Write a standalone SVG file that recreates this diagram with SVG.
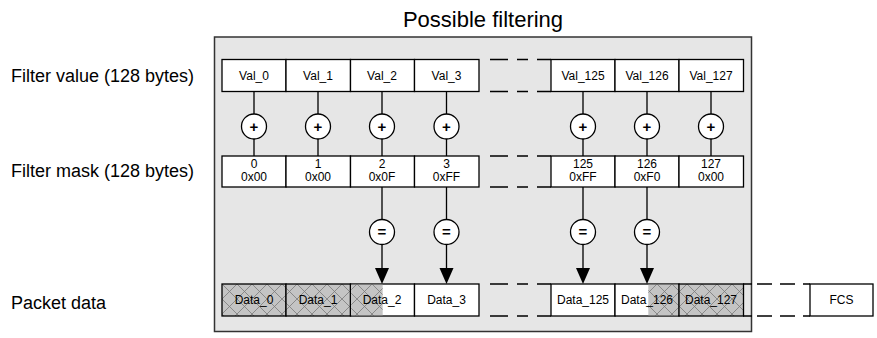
<svg xmlns="http://www.w3.org/2000/svg" width="877" height="338" viewBox="0 0 877 338">
<defs>
<pattern id="hatch" patternUnits="userSpaceOnUse" width="15" height="15" x="222" y="284">
<rect width="15" height="15" fill="#c4c4c4"/>
<path d="M0,0 L15,15 M15,0 L0,15" stroke="#7a7a7a" stroke-width="0.8"/>
</pattern>
<style>
text{font-family:"Liberation Sans",Arial,sans-serif;fill:#000}
.t{font-size:12px;text-anchor:middle}
.lbl{font-size:18px}
.cell{fill:#fff;stroke:#000;stroke-width:1.3}
.hat{fill:url(#hatch);stroke:none}
.hb{fill:none;stroke:#000;stroke-width:1.3}
.ln{stroke:#000;stroke-width:1.3;fill:none}
.dash{stroke:#000;stroke-width:1.3;fill:none;stroke-dasharray:18 9 11 9 14}
.op{fill:#fff;stroke:#000;stroke-width:1.3}
.sym{font-size:15px;font-weight:bold;text-anchor:middle}
.ah{fill:#000}
</style>
</defs>
<rect width="877" height="338" fill="#fff"/>
<text x="483" y="27" style="font-size:22px;text-anchor:middle">Possible filtering</text>
<g id="frame"><rect x="214.5" y="37" width="537" height="294.5" fill="#e6e6e6" stroke="#333" stroke-width="1.5"/></g>
<g id="labels">
<text class="lbl" x="11" y="82">Filter value (128 bytes)</text>
<text class="lbl" x="11" y="177">Filter mask (128 bytes)</text>
<text class="lbl" x="11" y="309">Packet data</text>
</g>
<g id="connectors">
<path class="ln" d="M254,91.5V156 M318,91.5V156 M382,91.5V156 M446.5,91.5V156 M583,91.5V156 M647,91.5V156 M711,91.5V156"/>
<path class="ln" d="M382,187V270 M446.5,187V270 M583,187V270 M647,187V270"/>
<path class="ah" d="M375,268L389,268L382,284Z M439.5,268L453.5,268L446.5,284Z M576,268L590,268L583,284Z M640,268L654,268L647,284Z"/>
<path class="dash" d="M490,59.5H551 M490,91.5H551 M490,156H551 M490,187H551 M490,284H551 M490,316H551"/>
<path class="ln" d="M743,284H752 M743,316H752" />
<path class="ln" style="stroke-dasharray:15 8" d="M757,284H810 M757,316H810"/>
</g>
<g id="row-value">
<g id="val0"><rect class="cell" x="222" y="59.5" width="64" height="32"/><text class="t" x="254" y="79.5">Val_0</text></g>
<g id="val1"><rect class="cell" x="286" y="59.5" width="64.5" height="32"/><text class="t" x="318" y="79.5">Val_1</text></g>
<g id="val2"><rect class="cell" x="350.5" y="59.5" width="64" height="32"/><text class="t" x="382" y="79.5">Val_2</text></g>
<g id="val3"><rect class="cell" x="414.5" y="59.5" width="64.5" height="32"/><text class="t" x="446.5" y="79.5">Val_3</text></g>
<g id="val125"><rect class="cell" x="551" y="59.5" width="64" height="32"/><text class="t" x="583" y="79.5">Val_125</text></g>
<g id="val126"><rect class="cell" x="615" y="59.5" width="64" height="32"/><text class="t" x="647" y="79.5">Val_126</text></g>
<g id="val127"><rect class="cell" x="679" y="59.5" width="64.5" height="32"/><text class="t" x="711" y="79.5">Val_127</text></g>
</g>
<g id="row-plus">
<g id="p0"><circle class="op" cx="254" cy="126.5" r="12.5"/><text class="sym" x="254" y="131.5">+</text></g>
<g id="p1"><circle class="op" cx="318" cy="126.5" r="12.5"/><text class="sym" x="318" y="131.5">+</text></g>
<g id="p2"><circle class="op" cx="382" cy="126.5" r="12.5"/><text class="sym" x="382" y="131.5">+</text></g>
<g id="p3"><circle class="op" cx="446.5" cy="126.5" r="12.5"/><text class="sym" x="446.5" y="131.5">+</text></g>
<g id="p125"><circle class="op" cx="583" cy="126.5" r="12.5"/><text class="sym" x="583" y="131.5">+</text></g>
<g id="p126"><circle class="op" cx="647" cy="126.5" r="12.5"/><text class="sym" x="647" y="131.5">+</text></g>
<g id="p127"><circle class="op" cx="711" cy="126.5" r="12.5"/><text class="sym" x="711" y="131.5">+</text></g>
</g>
<g id="row-mask">
<g id="m0"><rect class="cell" x="222" y="156" width="64" height="31"/><text class="t" x="254" y="168">0</text><text class="t" x="254" y="181">0x00</text></g>
<g id="m1"><rect class="cell" x="286" y="156" width="64.5" height="31"/><text class="t" x="318" y="168">1</text><text class="t" x="318" y="181">0x00</text></g>
<g id="m2"><rect class="cell" x="350.5" y="156" width="64" height="31"/><text class="t" x="382" y="168">2</text><text class="t" x="382" y="181">0x0F</text></g>
<g id="m3"><rect class="cell" x="414.5" y="156" width="64.5" height="31"/><text class="t" x="446.5" y="168">3</text><text class="t" x="446.5" y="181">0xFF</text></g>
<g id="m125"><rect class="cell" x="551" y="156" width="64" height="31"/><text class="t" x="583" y="168">125</text><text class="t" x="583" y="181">0xFF</text></g>
<g id="m126"><rect class="cell" x="615" y="156" width="64" height="31"/><text class="t" x="647" y="168">126</text><text class="t" x="647" y="181">0xF0</text></g>
<g id="m127"><rect class="cell" x="679" y="156" width="64.5" height="31"/><text class="t" x="711" y="168">127</text><text class="t" x="711" y="181">0x00</text></g>
</g>
<g id="row-eq">
<g id="e2"><circle class="op" cx="382" cy="232" r="12.5"/><text class="sym" x="382" y="237">=</text></g>
<g id="e3"><circle class="op" cx="446.5" cy="232" r="12.5"/><text class="sym" x="446.5" y="237">=</text></g>
<g id="e125"><circle class="op" cx="583" cy="232" r="12.5"/><text class="sym" x="583" y="237">=</text></g>
<g id="e126"><circle class="op" cx="647" cy="232" r="12.5"/><text class="sym" x="647" y="237">=</text></g>
</g>
<g id="row-data">
<g id="d0"><rect class="hat" x="222" y="284" width="64" height="32"/><rect class="hb" x="222" y="284" width="64" height="32"/><text class="t" x="254" y="304">Data_0</text></g>
<g id="d1"><rect class="hat" x="286" y="284" width="64.5" height="32"/><rect class="hb" x="286" y="284" width="64.5" height="32"/><text class="t" x="318" y="304">Data_1</text></g>
<g id="d2"><rect class="cell" x="350.5" y="284" width="64" height="32"/><rect class="hat" x="351.2" y="284.7" width="31.5" height="30.6"/><text class="t" x="382" y="304">Data_2</text></g>
<g id="d3"><rect class="cell" x="414.5" y="284" width="64.5" height="32"/><text class="t" x="446.5" y="304">Data_3</text></g>
<g id="d125"><rect class="cell" x="551" y="284" width="64" height="32"/><text class="t" x="583" y="304">Data_125</text></g>
<g id="d126"><rect class="cell" x="615" y="284" width="64" height="32"/><rect class="hat" x="648.3" y="284.7" width="30" height="30.6"/><text class="t" x="647" y="304">Data_126</text></g>
<g id="d127"><rect class="hat" x="679" y="284" width="64.5" height="32"/><rect class="hb" x="679" y="284" width="64.5" height="32"/><text class="t" x="711" y="304">Data_127</text></g>
<g id="fcs"><rect class="cell" x="810" y="284" width="63" height="32"/><text class="t" x="841.5" y="304">FCS</text></g>
</g>
</svg>
